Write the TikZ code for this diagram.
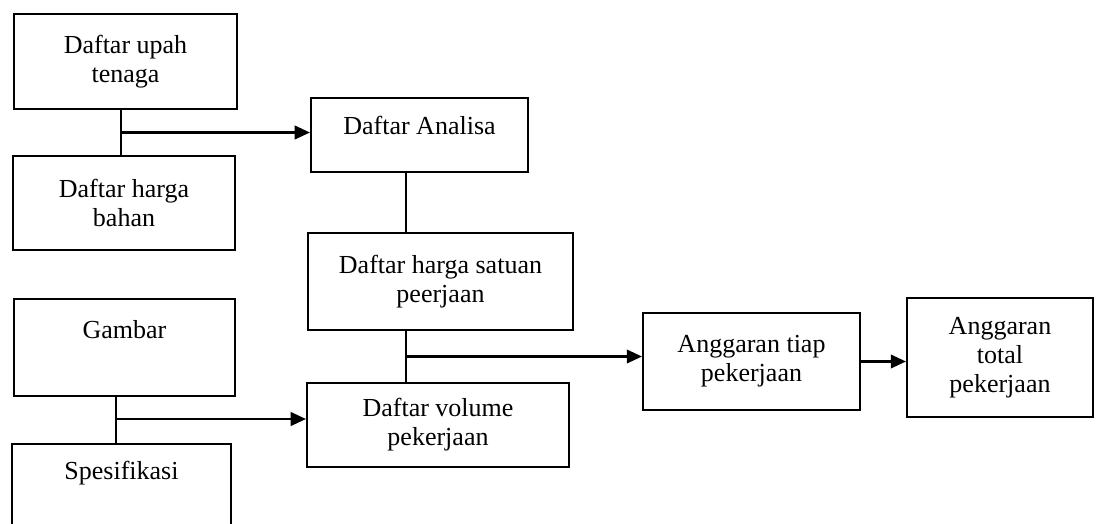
\documentclass[tikz,border=0pt]{standalone}
\usepackage{fontspec}
\setmainfont{Liberation Serif}
\usetikzlibrary{arrows.meta}

\begin{document}
\begin{tikzpicture}[
  link/.style={draw=black, line width=1.5pt},
  feed/.style={link, -{Triangle[length=3.8mm, width=3.4mm]}},
  block/.style={draw=black, line width=1.5pt, inner sep=0pt, align=center,
                font=\fontsize{18.5}{20.5}\selectfont},
]
  \useasboundingbox (0,0) rectangle (27.425,-13.075);

  % Price lists on the left
  \node[block, minimum width=5.575cm, minimum height=2.375cm] (upah) at (3.1375,-1.5375) {Daftar upah\\tenaga};
  \node[block, minimum width=5.55cm, minimum height=2.35cm] (bahan) at (3.1,-5.075) {Daftar harga\\bahan};

  % Drawings and specs on the left
  \node[block, anchor=north, minimum width=5.525cm, text height=0.975cm, text depth=1.45cm] (gambar) at (3.1125,-7.45) {Gambar};
  \node[block, anchor=north, minimum width=5.475cm, text height=0.875cm, text depth=2cm] (spek) at (3.0375,-11.075) {Spesifikasi};

  % Middle column
  \node[block, anchor=north, minimum width=5.425cm, text height=0.9cm, text depth=0.95cm] (analisa) at (10.4875,-2.425) {Daftar Analisa};
  \node[block, minimum width=6.625cm, minimum height=2.425cm] (satuan) at (11.0125,-7.0375) {Daftar harga satuan\\peerjaan};
  \node[block, minimum width=6.55cm, minimum height=2.1cm] (volume) at (10.95,-10.625) {Daftar volume\\pekerjaan};

  % Budget boxes on the right
  \node[block, minimum width=5.425cm, minimum height=2.425cm] (tiap) at (18.7875,-9.0375) {Anggaran tiap\\pekerjaan};
  \node[block, minimum width=4.65cm, minimum height=2.975cm] (total) at (25.0,-8.9375) {Anggaran\\total\\pekerjaan};

  % Junction points
  \coordinate (j1) at (3.025,-3.3125);
  \coordinate (j2) at (10.15,-8.9125);
  \coordinate (j3) at (2.9,-10.475);

  % Wage + material -> analysis
  \draw[link] (upah.south -| j1) -- (bahan.north -| j1);
  \draw[feed] (j1) -- (j1 -| analisa.west);

  % Analysis -> unit prices
  \draw[link] (analisa.south -| j2) -- (satuan.north -| j2);

  % Drawings + specs -> volumes
  \draw[link] (gambar.south -| j3) -- (spek.north -| j3);
  \draw[feed] (j3) -- (j3 -| volume.west);

  % Unit prices + volumes -> budget per item -> total
  \draw[link] (satuan.south -| j2) -- (volume.north -| j2);
  \draw[feed] (j2) -- (j2 -| tiap.west);
  \draw[feed] (tiap.east) -- (tiap.east -| total.west);
\end{tikzpicture}
\end{document}
